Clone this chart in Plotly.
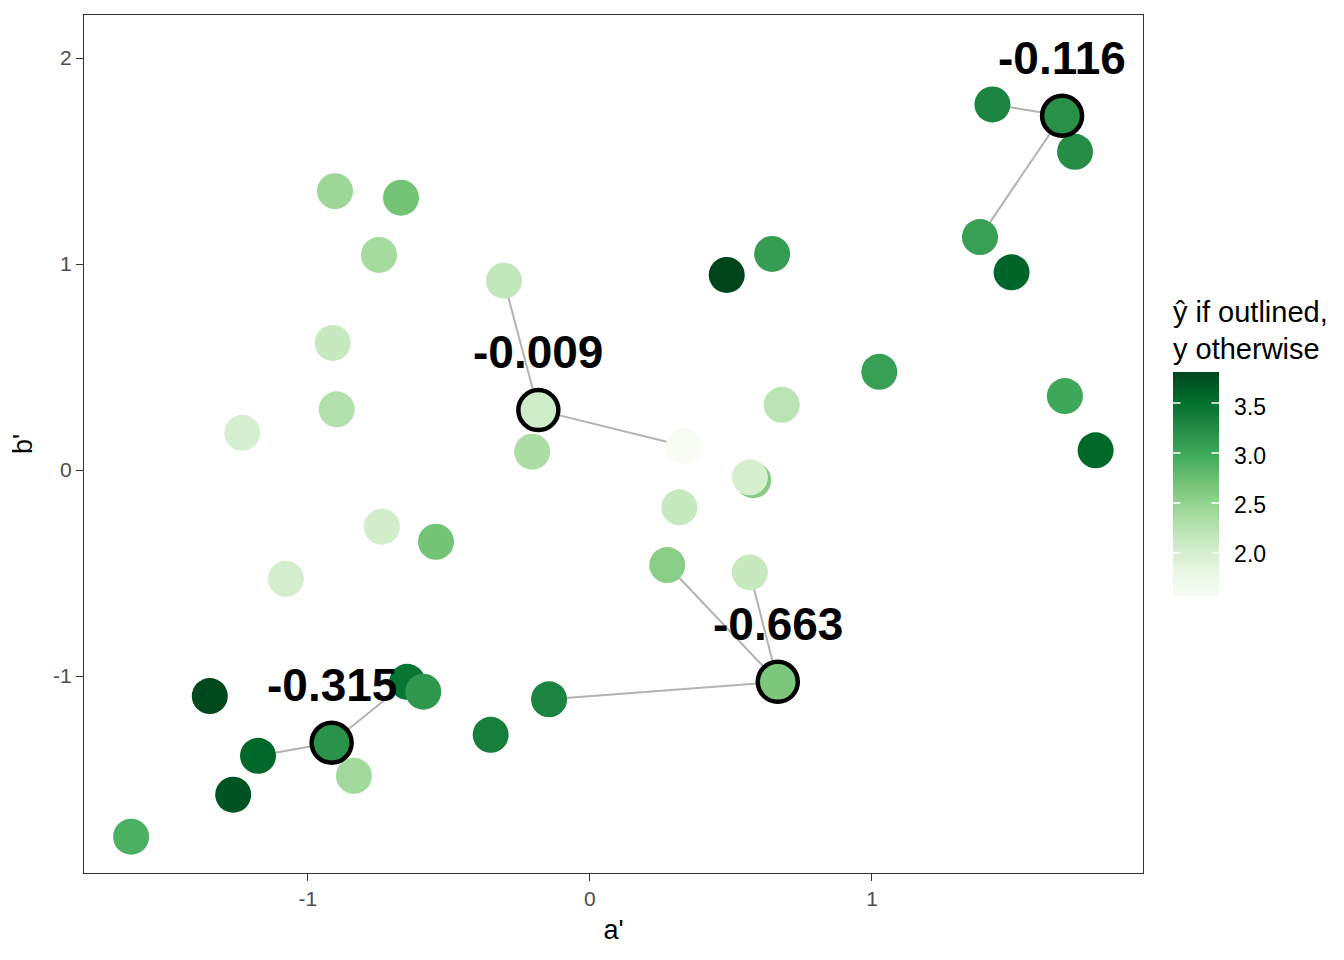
import plotly.graph_objects as go

# ---- data ----
a_prime = [1.674, 1.427, 1.720, 1.383, 1.495, 1.026, 1.684, 1.793,
           -0.904, -0.670, -0.748, -0.912, -0.898, -1.233, -0.738, -0.546, -1.078,
           -0.305, 0.485, 0.646, -0.183, -0.205, 0.333, 0.680, 0.579, 0.567,
           0.317, 0.274, 0.567, 0.666, -0.145, -0.352, -1.348, -0.648, -0.591,
           -1.177, -0.916, -0.837, -1.265, -1.627]
b_prime = [1.720, 1.775, 1.545, 1.131, 0.960, 0.477, 0.359, 0.096,
           1.354, 1.322, 1.044, 0.617, 0.295, 0.181, -0.275, -0.348, -0.528,
           0.919, 0.947, 1.049, 0.291, 0.089, 0.117, 0.317, -0.049, -0.035,
           -0.181, -0.461, -0.497, -1.028, -1.113, -1.285, -1.097, -1.028, -1.076,
           -1.387, -1.324, -1.484, -1.576, -1.780]
y_value = [3.24, 3.35, 3.27, 3.10, 3.63, 3.10, 3.04, 3.60,
           2.46, 2.72, 2.40, 2.15, 2.30, 2.00, 2.05, 2.72, 2.03,
           2.17, 3.86, 3.13, 2.07, 2.35, 1.57, 2.23, 2.62, 2.01,
           2.15, 2.58, 2.14, 2.67, 3.35, 3.40, 3.83, 3.50, 3.17,
           3.60, 3.22, 2.42, 3.75, 2.94]

# outlined points (indices), their labels and their neighbours
outlined_idx = [0, 20, 29, 36]
outlined_labels = ["-0.116", "-0.009", "-0.663", "-0.315"]
neighbours = [[1, 3], [17, 22], [27, 28, 30], [35, 33]]

x_ticks = [-1, 0, 1]
x_ticktext = ["-1", "0", "1"]
y_ticks = [-1, 0, 1, 2]
y_ticktext = ["-1", "0", "1", "2"]
cbar_ticks = [2.0, 2.5, 3.0, 3.5]
cbar_ticktext = ["2.0", "2.5", "3.0", "3.5"]

greens = [[0.0, "#f7fcf5"], [0.125, "#e5f5e0"], [0.25, "#c7e9c0"], [0.375, "#a1d99b"],
          [0.5, "#74c476"], [0.625, "#41ab5d"], [0.75, "#238b45"], [0.875, "#006d2c"],
          [1.0, "#00441b"]]
cmin, cmax = min(y_value), max(y_value)

FONT = "Liberation Sans"

# layout geometry (pixels)
W, H = 1344, 960
ML, MR, MT, MB = 76, 209, 7, 95
plot_w = W - ML - MR
plot_h = H - MT - MB
bar_len_px = 229
title_px = 70
bar_bottom_px = 277          # distance of bar bottom above plot bottom
bar_x = 1.0283
bar_thick = 46
tick_len = 9

fig = go.Figure()

# neighbour segments
for oi, nb in zip(outlined_idx, neighbours):
    for n in nb:
        fig.add_trace(go.Scatter(
            x=[a_prime[oi], a_prime[n]], y=[b_prime[oi], b_prime[n]],
            mode="lines", line=dict(color="#b3b3b3", width=2),
            showlegend=False, hoverinfo="skip"))

# all non-outlined points
plain = [i for i in range(len(a_prime)) if i not in outlined_idx]
fig.add_trace(go.Scatter(
    x=[a_prime[i] for i in plain], y=[b_prime[i] for i in plain],
    mode="markers",
    marker=dict(size=36, color=[y_value[i] for i in plain], colorscale=greens,
                cmin=cmin, cmax=cmax, line=dict(width=0),
                colorbar=dict(
                    title=dict(text="ŷ if outlined,<br>y otherwise", side="top",
                               font=dict(size=29, color="black", family=FONT)),
                    tickvals=cbar_ticks, ticktext=cbar_ticktext,
                    ticks="outside", tickcolor="rgba(0,0,0,0)", ticklen=11,
                    tickfont=dict(size=23, color="black", family=FONT),
                    thicknessmode="pixels", thickness=bar_thick,
                    lenmode="pixels", len=bar_len_px + title_px,
                    x=bar_x, xanchor="left",
                    y=bar_bottom_px / plot_h, yanchor="bottom",
                    outlinewidth=0, ypad=0, xpad=0)),
    showlegend=False, hoverinfo="skip"))

# outlined points
fig.add_trace(go.Scatter(
    x=[a_prime[i] for i in outlined_idx], y=[b_prime[i] for i in outlined_idx],
    mode="markers",
    marker=dict(size=40, color=[y_value[i] for i in outlined_idx], colorscale=greens,
                cmin=cmin, cmax=cmax, line=dict(width=4.5, color="black"),
                showscale=False),
    showlegend=False, hoverinfo="skip"))

for i, lab in zip(outlined_idx, outlined_labels):
    fig.add_annotation(x=a_prime[i], y=b_prime[i], text="<b>" + lab + "</b>",
                       showarrow=False, yshift=58,
                       font=dict(size=46, color="black", family=FONT))

# white ticks on both edges of the colour bar (ggplot style), drawn as arrow-only annotations
for v in cbar_ticks:
    yp = (bar_bottom_px + (v - cmin) / (cmax - cmin) * bar_len_px) / plot_h
    for xs, ax in ((bar_x, tick_len), (bar_x + bar_thick / plot_w, -tick_len)):
        fig.add_annotation(x=xs, y=yp, xref="paper", yref="paper", text="",
                           showarrow=True, arrowhead=0, arrowwidth=1.5,
                           arrowcolor="white", ax=ax, ay=0, standoff=0,
                           startstandoff=0)

axis_common = dict(showgrid=False, zeroline=False, showline=True, mirror=True,
                   linecolor="#333333", linewidth=1.2, ticks="outside", ticklen=7,
                   tickwidth=1.2, tickcolor="#333333",
                   tickfont=dict(size=21, color="#4d4d4d", family=FONT))
fig.update_xaxes(range=[-1.794, 1.961], tickvals=x_ticks, ticktext=x_ticktext,
                 title=dict(text="a'", font=dict(size=27, color="black", family=FONT),
                            standoff=10),
                 **axis_common)
fig.update_yaxes(range=[-1.956, 2.209], tickvals=y_ticks, ticktext=y_ticktext,
                 title=dict(text="b'", font=dict(size=27, color="black", family=FONT),
                            standoff=14),
                 **axis_common)

fig.update_layout(width=W, height=H,
                  margin=dict(l=ML, r=MR, t=MT, b=MB),
                  plot_bgcolor="white", paper_bgcolor="white",
                  font=dict(family=FONT))

fig.write_html("out.html")
